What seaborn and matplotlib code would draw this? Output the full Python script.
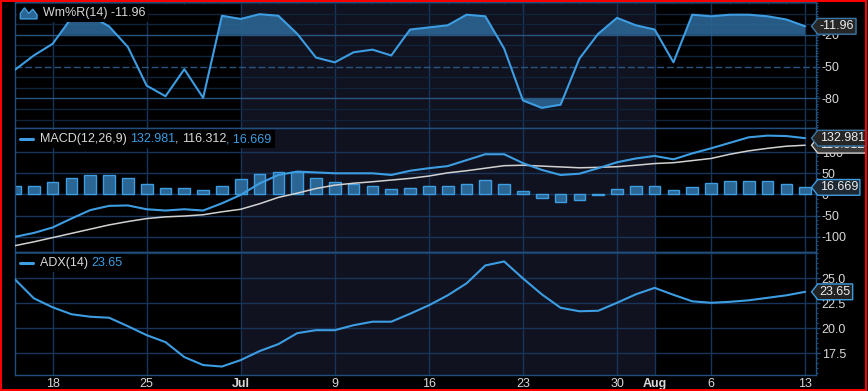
import numpy as np
import pandas as pd
import matplotlib
matplotlib.use('Agg')
import matplotlib.pyplot as plt
import seaborn as sns
from matplotlib.offsetbox import AnchoredOffsetbox, HPacker, TextArea, DrawingArea
from matplotlib.lines import Line2D
from matplotlib.patches import Polygon, Rectangle
from matplotlib.path import Path
from matplotlib.ticker import MultipleLocator

#----------------------------------------------------
dates = pd.bdate_range('2012-06-14', '2012-08-13')

wr = [-53, -39.5, -28.5, -4, -2, -12, -31.5, -68, -78, -52.5, -79.5, -2, -5, -0.5, -2,
      -19, -41.5, -46, -36.5, -34, -39.5, -15, -13, -11, -1, -2.5, -33, -82, -89, -86,
      -42.5, -19, -4, -11, -15, -46, -1, -2.5, -1, -1, -2.5, -5.5, -11.96]
macd = [-100, -91, -78, -57, -37, -27, -26, -35, -38, -35, -38, -21, -1, 26, 46, 54,
        52, 50, 50, 50, 46, 56, 62, 67, 81, 95, 95, 74, 58, 46, 49, 62, 76, 85, 91, 83,
        97, 109, 122, 135, 139, 138, 132.981]
signal = [-121, -112, -102, -92, -82, -72, -64, -57, -53, -51, -48, -41, -35, -22, -7, 3,
          14, 22, 26.5, 30, 34, 38, 43.5, 51, 56, 62, 68, 69, 67, 65, 63, 64, 65.5, 69,
          73, 75, 80, 85, 95, 103, 109, 114, 116.312]
hist = [20, 21, 29, 40, 46, 46, 40, 25, 15, 15, 10.5, 21, 36.5, 49, 52, 54, 40, 29, 24,
        19, 13, 16, 19, 19, 25.5, 34, 25.5, 7, -8, -17, -12, -1, 13, 20, 20, 10.5, 18.5,
        26.5, 32, 32, 32, 25.5, 16.669]
adx = [24.9, 23.0, 22.1, 21.4, 21.15, 21.05, 20.2, 19.3, 18.6, 17.1, 16.3, 16.15, 16.8,
       17.7, 18.4, 19.5, 19.8, 19.8, 20.3, 20.65, 20.65, 21.45, 22.3, 23.3, 24.5, 26.3,
       26.7, 25.0, 23.4, 22.05, 21.7, 21.75, 22.55, 23.4, 24.05, 23.35, 22.7, 22.55,
       22.65, 22.8, 23.05, 23.3, 23.65]

tick_dates = ['2012-06-18', '2012-06-25', '2012-07-02', '2012-07-09', '2012-07-16',
              '2012-07-23', '2012-07-30', '2012-08-01', '2012-08-06', '2012-08-13']
tick_labels = ['18', '25', 'Jul', '9', '16', '23', '30', 'Aug', '6', '13']

#----------------------------------------------------
c_line = '#3d9de2'
c_fill = '#2b6593'
c_sig = '#d2d2d2'
c_txt = '#d8d8d8'
c_frame = '#21507f'
c_grid = '#17355a'
c_grid_dim = '#10243c'
c_month = '#11121f'

sns.set_theme(style='dark', rc={'axes.facecolor': 'black', 'figure.facecolor': 'black'})
plt.rcParams['font.family'] = ['Liberation Sans', 'DejaVu Sans']

pos = np.arange(len(dates))
tpos = [dates.get_loc(pd.Timestamp(d)) for d in tick_dates]
xlim = (pos[0] + 0.53, pos[-1] + 0.55)

fig = plt.figure(figsize=(8.68, 3.91), dpi=100, facecolor='black')
L, W = 15 / 868, 800.5 / 868
def fy(px):
    return 1 - px / 391
ax1 = fig.add_axes([L, fy(128), W, fy(2) - fy(128)])
ax2 = fig.add_axes([L, fy(252), W, fy(128) - fy(252)])
ax3 = fig.add_axes([L, fy(375), W, fy(252) - fy(375)])


def style_ax(ax, ylim, yticks, fmt, minor):
    ax.set_facecolor('black')
    ax.grid(False)
    ax.set_xlim(xlim)
    ax.set_ylim(ylim)
    for s in ax.spines.values():
        s.set_color(c_frame)
        s.set_linewidth(1)
    ax.axvspan(tpos[2], tpos[7], color=c_month, lw=0, zorder=0)
    for t in tpos:
        ax.axvline(t, color=c_grid, lw=1, zorder=0.5)
    ax.yaxis.tick_right()
    ax.set_yticks(yticks)
    ax.set_yticklabels([fmt % v for v in yticks])
    ax.yaxis.set_minor_locator(MultipleLocator(minor))
    ax.tick_params(axis='y', which='major', length=3, width=1, color=c_frame, pad=1.5,
                   labelsize=9, labelcolor=c_txt)
    ax.tick_params(axis='y', which='minor', length=1.5, width=0.8, color=c_frame)
    ax.set_xticks(tpos)
    ax.set_xticks(pos, minor=True)
    ax.tick_params(axis='x', which='major', length=2, width=1, color=c_frame, pad=0.5,
                   labelsize=9, labelcolor=c_txt)
    ax.tick_params(axis='x', which='minor', length=1.5, width=0.8, color=c_frame)
    ax.set_xlabel('')
    ax.set_ylabel('')


def tag_style(x0, y0, width, height, mutation_size):
    pad = 0.15 * mutation_size
    x0, y0 = x0 - pad, y0 - pad
    x1, y1 = x0 + width + 2 * pad, y0 + height + 2 * pad
    h = (y1 - y0) / 2
    verts = [(x0, y0), (x1, y0), (x1, y1), (x0, y1), (x0 - 0.8 * h, y0 + h), (x0, y0)]
    codes = [Path.MOVETO] + [Path.LINETO] * 4 + [Path.CLOSEPOLY]
    return Path(verts, codes)


def tag(ax, val, txt, ec, fc='#262626'):
    ax.annotate(txt, xy=(1, val), xycoords=ax.get_yaxis_transform(), xytext=(3, 0),
                textcoords='offset points', ha='left', va='center', fontsize=9,
                color='#ececec', annotation_clip=False, zorder=20,
                bbox=dict(boxstyle=tag_style, fc=fc, ec=ec, lw=1))


def label(ax, parts, icon):
    texts = [TextArea(s, textprops=dict(color=c, fontsize=9)) for s, c in parts]
    row = HPacker(children=[icon, HPacker(children=texts, sep=0, pad=0)], sep=4, pad=0,
                  align='center')
    box = AnchoredOffsetbox(loc='upper left', child=row, pad=0.2, borderpad=0.15,
                            frameon=True, bbox_to_anchor=(0, 1), bbox_transform=ax.transAxes)
    box.patch.set_facecolor('black')
    box.patch.set_edgecolor('none')
    box.set_zorder(15)
    ax.add_artist(box)


def dash_icon():
    da = DrawingArea(10, 8, 0, 0)
    da.add_artist(Line2D([0, 9], [4, 4], color=c_line, lw=2.2))
    return da


#---------------------------------------------------- Williams %R
wr_a = np.array(wr)
for v in range(-100, 11, 10):
    if v in (-20, -80):
        ax1.axhline(v, color='#27557f', lw=1, zorder=0.6)
    elif v == -50:
        ax1.axhline(v, color='#27557f', lw=1, dashes=(5, 2), zorder=0.6)
    else:
        ax1.axhline(v, color=c_grid_dim, lw=1, zorder=0.6)
ax1.fill_between(pos, wr_a, -20, where=wr_a > -20, interpolate=True, color=c_fill,
                 alpha=0.9, lw=0, zorder=2)
ax1.fill_between(pos, wr_a, -80, where=wr_a < -80, interpolate=True, color=c_fill,
                 alpha=0.9, lw=0, zorder=2)
sns.lineplot(x=pos, y=wr, ax=ax1, color=c_line, lw=1.5, legend=False, zorder=3)
style_ax(ax1, (-108, 11), [-80, -50, -20], '%d', 2.5)
ax1.tick_params(axis='x', which='both', labelbottom=False)
ax1.tick_params(axis='x', which='minor', top=True, direction='in')

wr_icon = DrawingArea(12, 8, 0, 0)
wr_icon.add_artist(Polygon([(0, 0), (0, 4), (3, 8), (6, 4), (9, 7), (12, 3), (12, 0)],
                           closed=True, fc=c_fill, ec=c_line, lw=1))
label(ax1, [('Wm%R(14) -11.96', c_txt)], wr_icon)
tag(ax1, wr[-1], '-11.96', '#3a78a8')

#---------------------------------------------------- MACD
for v in (-100, -50, 0, 50, 100):
    ax2.axhline(v, color=c_grid, lw=1, zorder=0.6)
sns.barplot(x=pos, y=hist, ax=ax2, native_scale=True, width=0.62, color=c_fill,
            edgecolor=c_line, linewidth=1, saturation=1, errorbar=None, zorder=2)
sns.lineplot(x=pos, y=signal, ax=ax2, color=c_sig, lw=1.1, legend=False, zorder=3)
sns.lineplot(x=pos, y=macd, ax=ax2, color=c_line, lw=1.5, legend=False, zorder=4)
style_ax(ax2, (-136, 157), [-100, -50, 0, 50, 100], '%d', 10)
ax2.tick_params(axis='x', which='both', labelbottom=False)
label(ax2, [('MACD(12,26,9) ', c_txt), ('132.981', c_line), (', ', c_txt),
            ('116.312', c_txt), (', 16.669', c_line)], dash_icon())
tag(ax2, signal[-1], '116.312', '#d0d0d0', fc='#3a3a3a')
tag(ax2, macd[-1], '132.981', '#3a78a8')
tag(ax2, hist[-1], '16.669', c_line, fc='#1e2833')

#---------------------------------------------------- ADX
for v in (17.5, 20, 22.5, 25, 27.5):
    ax3.axhline(v, color=c_grid, lw=1, zorder=0.6)
sns.lineplot(x=pos, y=adx, ax=ax3, color=c_line, lw=1.5, legend=False, zorder=3)
style_ax(ax3, (15.3, 27.65), [17.5, 20, 22.5, 25], '%.1f', 0.5)
ax3.set_xticklabels(tick_labels)
for t in ax3.get_xticklabels():
    if t.get_text() in ('Jul', 'Aug'):
        t.set_fontweight('bold')
label(ax3, [('ADX(14) ', c_txt), ('23.65', c_line)], dash_icon())
tag(ax3, adx[-1], '23.65', c_line, fc='#222222')

#----------------------------------------------------
fig.add_artist(Rectangle((0.75 / 868, 1.5 / 391), 865.5 / 868, 388.5 / 391,
                         transform=fig.transFigure, fill=False, ec='#ff0000', lw=1.4))
fig.savefig('out.png', dpi=100, facecolor='black')
plt.close()
